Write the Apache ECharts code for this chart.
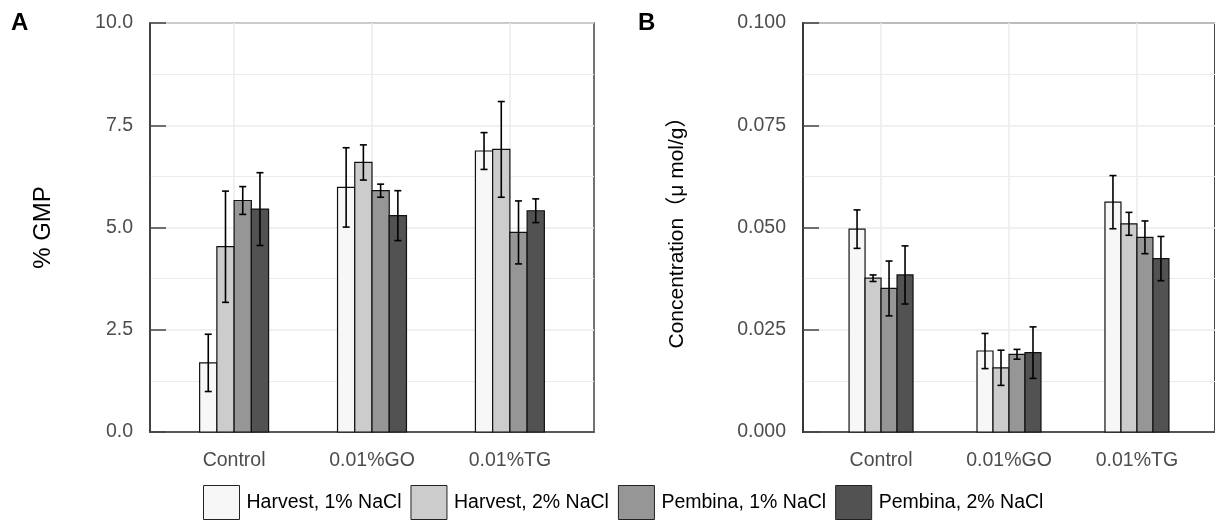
<!DOCTYPE html>
<html style="height: 100%">
<head>
    <meta charset="utf-8">
    <script src="https://cdn.jsdelivr.net/npm/echarts@6/dist/echarts.min.js"></script>
</head>
<body style="height: 100%; margin: 0; background: #fff">
    <div id="main" style="width: 1215px; height: 520px"></div>
    <script type="text/javascript">
        // groups on the x axis
        var categories = ['Control', '0.01%GO', '0.01%TG'];
        var seriesNames = ['Harvest, 1% NaCl', 'Harvest, 2% NaCl', 'Pembina, 1% NaCl', 'Pembina, 2% NaCl'];
        var yTicksA = [0, 2.5, 5, 7.5, 10];
        var yTicksB = [0, 0.025, 0.05, 0.075, 0.1];

        // panel A: % GMP (mean, error)
        var gmpH1 = [1.69, 5.98, 6.87];
        var gmpH1Err = [0.70, 0.97, 0.45];
        var gmpH2 = [4.53, 6.59, 6.91];
        var gmpH2Err = [1.36, 0.43, 1.17];
        var gmpP1 = [5.66, 5.90, 4.88];
        var gmpP1Err = [0.34, 0.16, 0.77];
        var gmpP2 = [5.45, 5.29, 5.41];
        var gmpP2Err = [0.89, 0.61, 0.29];

        // panel B: concentration (umol/g)
        var conH1 = [0.0496, 0.0198, 0.0562];
        var conH1Err = [0.0047, 0.0043, 0.0065];
        var conH2 = [0.0376, 0.0157, 0.0509];
        var conH2Err = [0.0008, 0.0043, 0.0028];
        var conP1 = [0.0351, 0.0190, 0.0476];
        var conP1Err = [0.0067, 0.0012, 0.0040];
        var conP2 = [0.0384, 0.0194, 0.0424];
        var conP2Err = [0.0071, 0.0063, 0.0054];

        var fills = ['#f7f7f7', '#cccccc', '#969696', '#525252'];
        var font = "'Liberation Sans', Arial, 'Noto Sans CJK SC', sans-serif";
        var barW = 0.125;

        function rows(vals, errs) {
            return vals.map(function (v, i) { return [i + 1, v, errs[i]]; });
        }

        function makeRender(si) {
            return function (params, api) {
                var x = api.value(0) + (si - 1.5) * barW;
                var y = api.value(1), e = api.value(2);
                var p0 = api.coord([x - barW / 2, y]);
                var p1 = api.coord([x + barW / 2, 0]);
                var top = api.coord([x, y + e]);
                var bot = api.coord([x, y - e]);
                var cap = 3.5;
                var ln = { stroke: '#000', lineWidth: 1.6 };
                return {
                    type: 'group',
                    children: [
                        { type: 'rect', shape: { x: p0[0], y: p0[1], width: p1[0] - p0[0], height: p1[1] - p0[1] },
                          style: { fill: fills[si], stroke: '#111', lineWidth: 1.2 } },
                        { type: 'line', shape: { x1: top[0], y1: top[1], x2: bot[0], y2: bot[1] }, style: ln },
                        { type: 'line', shape: { x1: top[0] - cap, y1: top[1], x2: top[0] + cap, y2: top[1] }, style: ln },
                        { type: 'line', shape: { x1: bot[0] - cap, y1: bot[1], x2: bot[0] + cap, y2: bot[1] }, style: ln }
                    ]
                };
            };
        }

        function xAxisFor(gi) {
            return {
                type: 'value', gridIndex: gi, min: 0.39, max: 3.61,
                axisLine: { show: true, onZero: false, lineStyle: { color: '#333', width: 1.5 } },
                axisTick: { show: false, customValues: [1, 2, 3] },
                axisLabel: {
                    customValues: [1, 2, 3], margin: 19, color: '#4d4d4d', fontSize: 19.5, fontFamily: font,
                    formatter: function (v) { return categories[Math.round(v) - 1] || ''; }
                },
                splitLine: { show: true, lineStyle: { color: '#ebebeb', width: 1.5 } }
            };
        }

        function yAxisFor(gi, ticks, digits, name, gap, nameSize) {
            return {
                type: 'value', gridIndex: gi, min: ticks[0], max: ticks[ticks.length - 1],
                interval: ticks[1] - ticks[0],
                name: name, nameLocation: 'middle', nameGap: gap,
                nameTextStyle: { color: '#000', fontSize: nameSize, fontFamily: font },
                axisLine: { show: true, lineStyle: { color: '#333', width: 1.5 } },
                axisTick: { show: true, inside: true, length: 16, lineStyle: { color: '#444', width: 1.5 } },
                axisLabel: { margin: 17, color: '#4d4d4d', fontSize: 19.5, fontFamily: font,
                    formatter: function (v) { return v.toFixed(digits); } },
                splitLine: { show: true, lineStyle: { color: '#ebebeb', width: 1.5 } },
                minorTick: { show: false, splitNumber: 2 },
                minorSplitLine: { show: true, lineStyle: { color: '#ebebeb', width: 1.2 } }
            };
        }

        var dataA = [rows(gmpH1, gmpH1Err), rows(gmpH2, gmpH2Err), rows(gmpP1, gmpP1Err), rows(gmpP2, gmpP2Err)];
        var dataB = [rows(conH1, conH1Err), rows(conH2, conH2Err), rows(conP1, conP1Err), rows(conP2, conP2Err)];

        var series = [];
        [dataA, dataB].forEach(function (panel, gi) {
            panel.forEach(function (d, si) {
                series.push({
                    type: 'custom', name: seriesNames[si],
                    xAxisIndex: gi, yAxisIndex: gi,
                    itemStyle: { color: fills[si] },
                    encode: { x: 0, y: 1 },
                    renderItem: makeRender(si),
                    data: d
                });
            });
        });

        var myChart = echarts.init(document.getElementById('main'));
        var option = {
            backgroundColor: '#fff',
            animation: false,
            textStyle: { fontFamily: font },
            grid: [
                { left: 150, top: 23, width: 444, height: 409, show: true, borderColor: '#444', borderWidth: 1.5, backgroundColor: '#fff' },
                { left: 803, top: 23, width: 418, height: 409, show: true, borderColor: '#333', borderWidth: 1.8, backgroundColor: '#fff' }
            ],
            xAxis: [xAxisFor(0), xAxisFor(1)],
            yAxis: [
                yAxisFor(0, yTicksA, 1, '% GMP', 95, 24),
                yAxisFor(1, yTicksB, 3, 'Concentration\uff08\u03bc mol/g\uff09', 115, 21)
            ],
            legend: {
                left: 203, top: 485, padding: 0,
                itemWidth: 36, itemHeight: 34, itemGap: 9,
                textStyle: { color: '#000', fontSize: 19.5, fontFamily: font, padding: [0, 0, 0, 2] },
                data: seriesNames.map(function (n, i) {
                    return { name: n, icon: 'rect', itemStyle: { color: fills[i], borderColor: '#222', borderWidth: 1 } };
                })
            },
            graphic: [
                { type: 'text', left: 11, top: 11, style: { text: 'A', fill: '#000', font: 'bold 24px ' + font } },
                { type: 'text', left: 638, top: 11, style: { text: 'B', fill: '#000', font: 'bold 24px ' + font } }
            ],
            series: series
        };
        myChart.setOption(option);
    </script>
</body>
</html>
